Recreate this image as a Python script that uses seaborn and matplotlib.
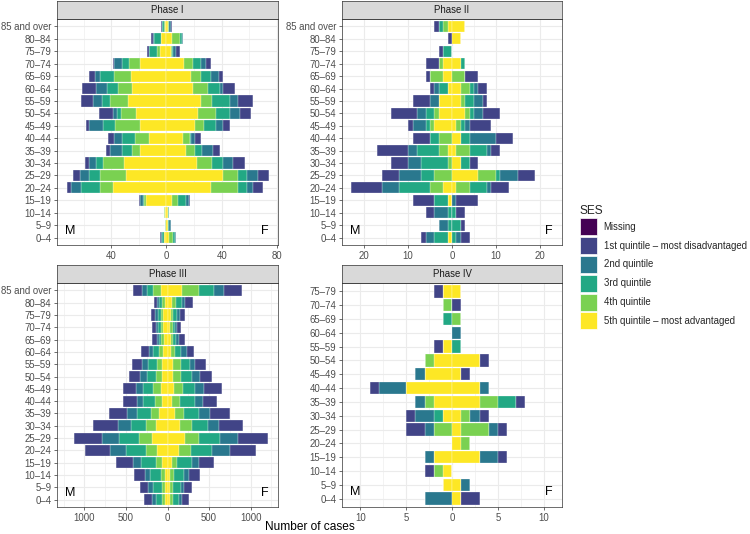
import numpy as np
import pandas as pd
import matplotlib
matplotlib.use("Agg")
import matplotlib.pyplot as plt
from matplotlib.patches import Patch
from matplotlib.ticker import FuncFormatter, MultipleLocator, FixedLocator
import seaborn as sns

ses_levels = ["Missing", "1st quintile – most disadvantaged", "2nd quintile",
              "3rd quintile", "4th quintile", "5th quintile – most advantaged"]
ses_colors = ["#440154", "#414487", "#2A788E", "#22A884", "#7AD151", "#FDE725"]
age_groups = ["0–4", "5–9", "10–14", "15–19", "20–24", "25–29", "30–34", "35–39",
              "40–44", "45–49", "50–54", "55–59", "60–64", "65–69", "70–74",
              "75–79", "80–84", "85 and over"]
phases = ["Phase I", "Phase II", "Phase III", "Phase IV"]

# rows: age groups from 0–4 upwards; columns follow ses_levels
p1_male = [[0,1,1,1,0,2],[0,0,0,0,1,0],[0,0,0,0,1,1],[0,1,2,1,1,15],
           [0,3,7,14,9,39],[0,5,7,8,19,29],[0,3,5,5,15,31],[0,3,9,7,6,19],
           [0,4,6,9,10,13],[0,2,10,9,18,19],[0,10,3,3,11,22],[0,9,6,6,13,28],
           [0,10,8,8,10,25],[0,4,4,10,12,26],[0,1,6,5,8,19],[0,1,0,6,2,5],
           [0,1,1,5,0,4],[0,1,0,1,1,1]]
p1_female = [[0,0,1,1,3,2],[0,0,1,1,0,1],[0,0,0,1,0,1],[0,1,2,6,4,4],
             [0,7,5,6,20,32],[0,8,8,6,11,41],[0,9,7,8,11,22],[0,5,8,5,7,14],
             [0,4,3,1,5,12],[0,5,5,9,6,21],[0,8,7,10,13,23],[0,11,6,13,8,25],
             [0,9,2,9,11,19],[0,3,6,7,7,18],[0,3,4,6,6,13],[0,3,2,1,1,3],
             [0,0,1,1,6,4],[0,1,1,0,1,1]]

p2_male = [[0,1,2,3,0,1],[0,0,2,1,0,0],[0,2,3,1,0,0],[0,5,0,3,0,1],
           [0,7,4,7,3,2],[0,4,5,3,4,0],[0,4,3,6,1,0],[0,7,2,5,2,1],
           [0,4,0,2,3,0],[0,1,3,1,1,4],[0,6,2,2,1,3],[0,4,2,0,0,3],
           [0,1,1,2,0,1],[0,1,0,0,3,2],[0,3,0,0,1,2],[0,1,0,2,0,0],
           [0,1,0,0,0,0],[0,1,0,1,1,1]]
p2_female = [[0,2,1,1,0,0],[0,1,0,2,0,0],[0,2,0,1,0,0],[0,5,1,0,0,0],
             [0,4,1,4,3,1],[0,4,4,1,4,6],[0,2,0,2,0,2],[0,2,1,4,3,1],
             [0,4,6,2,0,2],[0,5,1,1,1,1],[0,4,2,1,1,3],[0,1,2,2,1,2],
             [0,2,1,1,2,2],[0,3,0,0,3,0],[0,0,0,1,0,2],[0,0,0,0,0,0],
             [0,0,0,0,0,2],[0,0,0,0,0,3]]

p3_male = [[0,100,48,64,40,32],[0,100,64,104,36,32],[0,133,64,128,44,36],
           [0,201,100,173,72,68],[0,297,201,233,133,129],[0,345,201,241,153,189],
           [0,297,153,181,128,133],[0,225,120,165,96,104],[0,173,76,140,80,72],
           [0,153,88,120,92,80],[0,132,80,112,72,68],[0,120,80,100,60,72],
           [0,96,52,64,48,60],[0,52,24,32,28,48],[0,48,28,32,32,52],
           [0,52,32,32,32,52],[0,40,24,36,28,36],[0,112,64,72,92,80]]
p3_female = [[0,84,40,72,36,28],[0,96,40,96,32,32],[0,133,64,112,52,32],
             [0,181,88,173,68,52],[0,313,217,253,141,141],[0,361,213,253,169,209],
             [0,281,137,193,145,149],[0,241,128,185,108,88],[0,165,100,173,96,60],
             [0,225,108,144,104,80],[0,152,96,132,88,72],[0,128,68,108,92,68],
             [0,92,64,80,48,40],[0,72,36,40,28,40],[0,52,24,28,28,36],
             [0,68,36,40,32,40],[0,88,36,72,52,56],[0,221,116,189,201,173]]

p4_male = [[0,0,3,0,0,0],[0,0,0,0,0,1],[0,1,0,0,1,1],[0,0,1,0,0,2],
           [0,0,0,0,0,0],[0,2,1,0,2,0],[0,1,2,1,0,1],[0,0,1,0,1,2],
           [0,1,3,0,0,5],[0,0,1,0,0,3],[0,0,0,0,1,2],[0,1,0,0,0,1],
           [0,0,0,0,0,0],[0,0,0,1,0,0],[0,0,0,0,1,0],[0,1,0,0,0,1]]
p4_female = [[0,2,0,0,0,1],[0,0,1,0,0,1],[0,0,0,0,0,0],[0,1,2,0,0,3],
             [0,0,0,0,1,1],[0,1,1,0,3,1],[0,1,1,0,1,1],[0,1,0,2,2,3],
             [0,0,1,0,0,3],[0,1,0,0,0,1],[0,1,0,0,0,3],[0,0,0,1,0,0],
             [0,0,1,0,0,0],[0,0,0,0,1,0],[0,1,0,0,0,0],[0,0,0,0,0,1]]

x_limits = [(-79.3, 80.8), (-25.1, 25.1), (-1330, 1330), (-12, 12)]
x_ticks = [[-40, 0, 40, 80], [-20, -10, 0, 10, 20],
           [-1000, -500, 0, 500, 1000], [-10, -5, 0, 5, 10]]

records = []
for phase, male, female in zip(phases, [p1_male, p2_male, p3_male, p4_male],
                               [p1_female, p2_female, p3_female, p4_female]):
    for sex, rows in (("M", male), ("F", female)):
        for age, row in zip(age_groups, rows):
            for ses, n in zip(ses_levels, row):
                records.append((phase, sex, age, ses, n))
df = pd.DataFrame(records, columns=["phase", "sex", "age", "ses", "n"])

sns.set_theme(style="white")
plt.rcParams["font.family"] = ["Liberation Sans", "DejaVu Sans"]

fig = plt.figure(figsize=(7.5, 5.34), dpi=100)
W, H = 750, 534
boxes = [(57, 278, 19, 245), (342, 562, 19, 245),
         (57, 278, 283, 507), (342, 562, 283, 507)]
strip_h = 18
grey20 = "#333333"

for i, phase in enumerate(phases):
    l, r, t, b = boxes[i]
    ax = fig.add_axes([l / W, 1 - b / H, (r - l) / W, (b - t) / H])
    sax = fig.add_axes([l / W, 1 - t / H, (r - l) / W, strip_h / H])
    sub = df[df["phase"] == phase]
    ages = [a for a in age_groups if a in set(sub["age"])]
    ypos = np.arange(len(ages))
    lo, hi = x_limits[i]

    for sex, sign in (("M", -1), ("F", 1)):
        tab = (sub[sub["sex"] == sex]
               .pivot(index="age", columns="ses", values="n")
               .reindex(index=ages, columns=ses_levels))
        left = np.zeros(len(ages))
        for ses, col in zip(ses_levels[::-1], ses_colors[::-1]):
            vals = tab[ses].to_numpy() * sign
            ax.barh(ypos, vals, left=left, height=0.9, color=col,
                    edgecolor=(1, 1, 1, 0.55), linewidth=0.35, zorder=3)
            left = left + vals

    ax.set_xlim(lo, hi)
    ax.set_ylim(-0.6, len(ages) - 0.4)
    ax.set_yticks(ypos)
    ax.set_yticklabels(ages)
    ax.xaxis.set_major_locator(FixedLocator(x_ticks[i]))
    step = x_ticks[i][2] - x_ticks[i][1]
    ax.xaxis.set_minor_locator(MultipleLocator(step / 2))
    ax.xaxis.set_major_formatter(FuncFormatter(lambda v, p: f"{abs(v):g}"))
    ax.grid(which="major", color="#EBEBEB", linewidth=0.8, zorder=0)
    ax.grid(which="minor", axis="x", color="#EBEBEB", linewidth=0.4, zorder=0)
    ax.set_axisbelow(True)
    ax.tick_params(axis="both", which="major", length=2.5, width=0.5,
                   color=grey20, labelsize=6.9, labelcolor="#4D4D4D", pad=1.5,
                   left=True, bottom=True)
    ax.tick_params(which="minor", length=0)
    for s in ax.spines.values():
        s.set_color(grey20)
        s.set_linewidth(0.5)
    span = hi - lo
    ax.text(lo + 0.058 * span, 0.5, "M", ha="center", va="center", fontsize=9, color="black")
    ax.text(hi - 0.058 * span, 0.5, "F", ha="center", va="center", fontsize=9, color="black")

    sax.set_facecolor("#D9D9D9")
    sax.set_xticks([])
    sax.set_yticks([])
    for s in sax.spines.values():
        s.set_color(grey20)
        s.set_linewidth(0.5)
    sax.text(0.5, 0.5, phase, ha="center", va="center", fontsize=6.9,
             color="#1A1A1A", transform=sax.transAxes)

fig.text(310 / W, 1 - 527 / H, "Number of cases", ha="center", va="center",
         fontsize=8.6, color="black")

handles = [Patch(facecolor=c, edgecolor="white", linewidth=0.5) for c in ses_colors]
leg = fig.legend(handles, ses_levels, title="SES", loc="center left",
                 bbox_to_anchor=(576 / W, 0.5), frameon=False, fontsize=6.9,
                 title_fontsize=8.6, handlelength=1.77, handleheight=2.35,
                 labelspacing=0.19, handletextpad=0.7, alignment="left",
                 borderaxespad=0)

fig.savefig("out.png", dpi=100)
